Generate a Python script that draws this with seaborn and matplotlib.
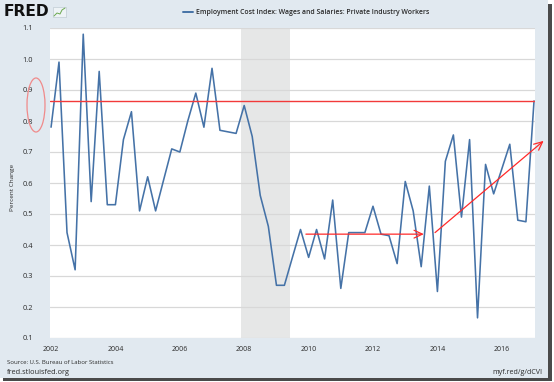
import matplotlib
matplotlib.use("Agg")
import matplotlib.pyplot as plt
from matplotlib.patches import Rectangle, Ellipse
from matplotlib.lines import Line2D
import seaborn as sns
import pandas as pd

# ---------------- data ----------------
start_date = "2002-01-01"
end_date = "2017-01-01"
pct_change = [0.78, 0.99, 0.44, 0.32, 1.08, 0.54, 0.96, 0.53, 0.53, 0.74,
              0.83, 0.51, 0.62, 0.51, 0.61, 0.71, 0.70, 0.80, 0.89, 0.78,
              0.97, 0.77, 0.765, 0.76, 0.85, 0.75, 0.56, 0.46, 0.27, 0.27,
              0.36, 0.45, 0.36, 0.45, 0.355, 0.545, 0.26, 0.44, 0.44, 0.44,
              0.525, 0.435, 0.43, 0.34, 0.605, 0.51, 0.33, 0.59, 0.25, 0.67,
              0.755, 0.49, 0.74, 0.165, 0.66, 0.565, 0.645, 0.725, 0.48, 0.475,
              0.865]
recession = ["2007-12-01", "2009-06-01"]
ref_level = 0.866
y_ticks = [0.1, 0.2, 0.3, 0.4, 0.5, 0.6, 0.7, 0.8, 0.9, 1.0, 1.1]
x_tick_years = [2002, 2004, 2006, 2008, 2010, 2012, 2014, 2016]
flat_arrow = [("2009-12-01", 0.435), ("2013-07-31", 0.435)]
rise_arrow = [("2013-12-05", 0.44), ("2017-04-20", 0.736)]
series_name = "Employment Cost Index: Wages and Salaries: Private Industry Workers"

dates = pd.date_range(start_date, end_date, freq="QS")
df = pd.DataFrame({"date": dates, "value": pct_change})

# ---------------- figure ----------------
sns.set_style("white")
plt.rcParams["font.family"] = ["Open Sans", "DejaVu Sans"]

W, H = 554, 382
fig = plt.figure(figsize=(W / 100, H / 100), dpi=100, facecolor="white")

def fx(px):
    return px / W

def fy(py):
    return 1 - py / H

BG = "#e1e9f0"
# background panel and shadow
fig.patches.append(Rectangle((0, fy(378)), fx(548), 1 - fy(378), transform=fig.transFigure,
                             facecolor=BG, edgecolor="none", zorder=-10))
fig.patches.append(Rectangle((fx(548), fy(381)), fx(4), fy(4) - fy(381), transform=fig.transFigure,
                             facecolor="#4a4a4a", edgecolor="none", zorder=-9))
fig.patches.append(Rectangle((fx(3), fy(381)), fx(549), fy(378) - fy(381), transform=fig.transFigure,
                             facecolor="#4a4a4a", edgecolor="none", zorder=-9))

ax = fig.add_axes([fx(50), fy(338), fx(535) - fx(50), fy(28) - fy(338)])
ax.set_facecolor("white")

ax.axvspan(pd.Timestamp(recession[0]), pd.Timestamp(recession[1]), color="#e6e7e7", lw=0, zorder=0)

sns.lineplot(data=df, x="date", y="value", ax=ax, color="#4572a7", lw=1.15, zorder=3)

ax.axhline(ref_level, color="#f23a3a", lw=1.0, zorder=4)

ax.set_ylim(0.1, 1.1)
ax.set_xlim(pd.Timestamp("2001-12-20"), pd.Timestamp("2017-01-12"))
ax.set_yticks(y_ticks)
ax.set_yticklabels([f"{v:.1f}" for v in y_ticks])
ax.set_xticks([pd.Timestamp(f"{y}-01-01") for y in x_tick_years])
ax.set_xticklabels([str(y) for y in x_tick_years])
ax.grid(axis="y", color="#d8d8d8", lw=0.9)
ax.grid(axis="x", visible=False)
ax.set_axisbelow(True)
for s in ax.spines.values():
    s.set_visible(False)
ax.tick_params(axis="y", length=0, pad=12, labelsize=5.3, labelcolor="#2a2a2a")
ax.tick_params(axis="x", length=4, width=0.8, color="#d8d8d8", pad=1.5, labelsize=5.0,
               labelcolor="#2a2a2a")
ax.set_xlabel("")
ax.set_ylabel("")

# arrows
arrow_kw = dict(arrowstyle="->,head_length=0.6,head_width=0.28", color="#ff2a2a", lw=0.9,
                shrinkA=0, shrinkB=0)
ax.annotate("", xy=(pd.Timestamp(flat_arrow[1][0]), flat_arrow[1][1]),
            xytext=(pd.Timestamp(flat_arrow[0][0]), flat_arrow[0][1]),
            arrowprops=arrow_kw, annotation_clip=False, zorder=5)
ax.annotate("", xy=(pd.Timestamp(rise_arrow[1][0]), rise_arrow[1][1]),
            xytext=(pd.Timestamp(rise_arrow[0][0]), rise_arrow[0][1]),
            arrowprops=arrow_kw, annotation_clip=False, zorder=5)

# ellipse around 0.9/0.8 labels
fig.patches.append(Ellipse((fx(36), fy(105)), fx(18), fy(78) - fy(132), transform=fig.transFigure,
                           facecolor="none", edgecolor="#f08a8a", lw=0.9, zorder=5))

# y label
fig.text(fx(13), fy(187), "Percent Change", rotation=90, ha="center", va="center",
         fontsize=4.6, color="#2a2a2a")

# header: logo and legend
fig.text(fx(4), fy(12), "FRED", fontsize=11.2, fontweight="heavy", family="DejaVu Sans",
         ha="left", va="center", color="#111111")
fig.patches.append(Rectangle((fx(53), fy(17)), fx(13), fy(7) - fy(17), transform=fig.transFigure,
                             facecolor="#eef3f6", edgecolor="#b8c4cc", lw=0.4, zorder=2))
fig.lines.append(Line2D([fx(54), fx(57), fx(60), fx(62), fx(65)],
                        [fy(16), fy(13), fy(14), fy(10), fy(8)], transform=fig.transFigure,
                        color="#6aa84f", lw=0.7, zorder=6))
fig.lines.append(Line2D([fx(183), fx(193)], [fy(12), fy(12)], transform=fig.transFigure,
                        color="#4572a7", lw=1.4))
fig.text(fx(196), fy(12), series_name, fontsize=4.95, fontweight="semibold", ha="left",
         va="center", color="#2a2a2a")

# footer
fig.text(fx(7), fy(363), "Source: U.S. Bureau of Labor Statistics", fontsize=4.3,
         ha="left", va="center", color="#2a2a2a")
fig.text(fx(7), fy(372), "fred.stlouisfed.org", fontsize=5.3, ha="left", va="center",
         color="#2a2a2a")
fig.text(fx(542), fy(372), "myf.red/g/dCVI", fontsize=5.1, ha="right", va="center",
         color="#2a2a2a")

fig.savefig("out.png", dpi=100, facecolor="white")
